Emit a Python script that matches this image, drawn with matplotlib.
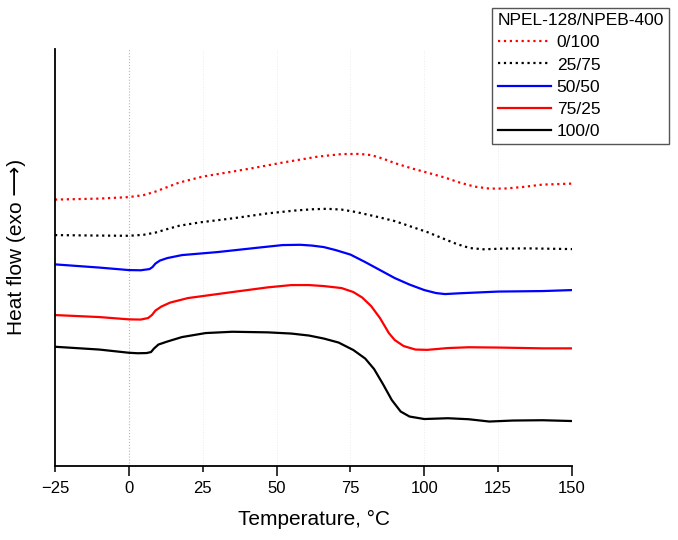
import matplotlib
matplotlib.use("Agg")
import matplotlib.pyplot as plt
from matplotlib.ticker import FixedLocator, FixedFormatter

plt.rcParams['font.family'] = ['Liberation Sans', 'DejaVu Sans']

# heat flow in arbitrary units
T_0_100 = [-25, -10, 0, 5, 9, 13, 17, 25, 32, 41, 52, 64, 72, 78, 82, 86, 90, 96, 101, 107, 112, 117, 122, 127, 133, 140, 150]
HF_0_100 = [266.5, 267.5, 269, 271, 274.5, 279, 283.5, 289.5, 293, 297.5, 303.5, 309.5, 312, 312.2, 311, 307.5, 303, 297.5, 293.5, 288.5, 283.5, 279.5, 277.5, 277.5, 279, 281.5, 282.5]

T_25_75 = [-25, -10, 0, 5, 9, 13, 17, 24, 35, 47, 56, 62, 67, 72, 77, 84, 90, 95, 101, 106, 111, 115.5, 120, 127, 135, 150]
HF_25_75 = [231, 230.5, 230.3, 231.3, 233.5, 237, 240.3, 243.7, 247.7, 252.7, 255.5, 256.8, 257.3, 256.5, 254, 249.3, 245, 240, 234, 228, 222, 218, 216.8, 217.5, 217.7, 217]

T_50_50 = [-25, -10, 0, 4, 7, 8, 9, 10.5, 13, 18, 30, 44, 52, 58, 62, 66, 70, 75, 80, 85, 90, 95, 100, 104, 107, 112, 125, 140, 150]
HF_50_50 = [201.7, 198.5, 196, 195.8, 197, 199, 202.5, 205.5, 208, 211, 214, 218.5, 221, 221.3, 220.5, 219, 216, 211.5, 204, 196, 188, 181.5, 176, 173, 172, 172.8, 174.5, 175, 176]

T_75_25 = [-25, -10, 0, 4, 6.5, 7.8, 9, 11, 14, 20, 35, 47, 55, 61, 66, 72, 76, 79, 82, 85, 88, 90, 93, 97, 101, 108, 115, 125, 140, 150]
HF_75_25 = [151, 149, 146.7, 146.5, 148, 151, 155.5, 159.5, 163.5, 168, 174, 178.7, 181, 181, 180, 178, 174, 168.5, 160, 148, 133, 126, 120, 116.5, 116.2, 118, 118.8, 118.5, 117.7, 117.7]

T_100_0 = [-25, -10, 0, 3, 6, 7.5, 8.5, 10, 13, 18, 26, 35, 47, 55, 61, 66, 71, 76, 80, 83, 86, 89, 92, 95, 100, 108, 115, 122, 130, 140, 150]
HF_100_0 = [119.3, 116.5, 113.3, 112.8, 113, 114, 117.5, 121.5, 124.5, 129, 133, 134.3, 133.7, 132.5, 130.5, 127.5, 123.5, 116, 107.5, 97, 82, 66, 54.5, 49.5, 47, 47.8, 46.8, 44.5, 45.5, 45.8, 45]

fig = plt.figure(figsize=(6.78, 5.40), dpi=100)
ax = fig.add_axes([0.0811, 0.137, 0.7626, 0.772])

# faint vertical grid + the 0 °C marker
for t in [25, 50, 75, 100, 125]:
    ax.axvline(t, color='#ececec', lw=0.7, ls=':', zorder=0)
ax.axvline(0, color='#b5b5b5', lw=0.8, ls=':', zorder=0)

ax.plot(T_0_100, HF_0_100, color='red', ls=':', lw=1.6, label='0/100')
ax.plot(T_25_75, HF_25_75, color='black', ls=':', lw=1.6, label='25/75')
ax.plot(T_50_50, HF_50_50, color='blue', lw=1.6, label='50/50')
ax.plot(T_75_25, HF_75_25, color='red', lw=1.6, label='75/25')
ax.plot(T_100_0, HF_100_0, color='black', lw=1.6, label='100/0')

ax.set_xlim(-25, 150)
ax.set_ylim(0, 417)

ax.spines['top'].set_visible(False)
ax.spines['right'].set_visible(False)
ax.spines['left'].set_linewidth(1.3)
ax.spines['bottom'].set_linewidth(1.3)
ax.set_yticks([])

maj = [0, 50, 100, 150]
mnr = [-25, 25, 75, 125]
ax.xaxis.set_major_locator(FixedLocator(maj))
ax.xaxis.set_minor_locator(FixedLocator(mnr))
ax.xaxis.set_major_formatter(FixedFormatter(['0', '50', '100', '150']))
ax.xaxis.set_minor_formatter(FixedFormatter(['\u221225', '25', '75', '125']))
ax.tick_params(axis='x', which='major', direction='out', length=7, width=1.1, labelsize=12, pad=4)
ax.tick_params(axis='x', which='minor', direction='out', length=4, width=1.1, labelsize=12, pad=7)

ax.set_xlabel('Temperature, \u00b0C', fontsize=15, labelpad=10)
ax.set_ylabel('Heat flow (exo \u27f6)', fontsize=15)
ax.yaxis.set_label_coords(-0.056, 0.525)

leg = ax.legend(title='NPEL-128/NPEB-400', loc='upper right',
                bbox_to_anchor=(0.987, 0.985), bbox_transform=fig.transFigure,
                borderaxespad=0, fontsize=12.5, title_fontsize=12.5,
                fancybox=False, framealpha=1, edgecolor='#555555',
                handlelength=3.1, handletextpad=0.3, labelspacing=0.4,
                borderpad=0.3)
leg._legend_box.align = 'left'
leg.get_frame().set_linewidth(1.0)

fig.savefig('out.png', dpi=100)
